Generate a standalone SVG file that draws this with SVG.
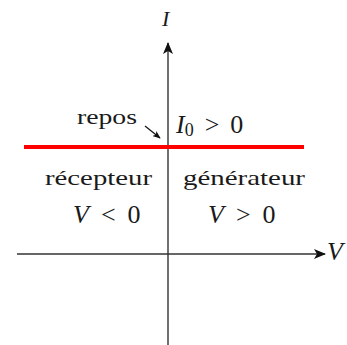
<svg xmlns="http://www.w3.org/2000/svg" width="347" height="345" viewBox="0 0 347 345">
<style>
text{font-family:"Liberation Serif","Times New Roman",serif;font-size:22px;fill:#1a1a1a}
.it{font-style:italic}
.m{font-size:26px}
.axis{stroke:#333;stroke-width:1.4;fill:none}
</style>
<defs>
<marker id="ah" viewBox="0 0 12 10" refX="11" refY="5" markerWidth="12" markerHeight="10" markerUnits="userSpaceOnUse" orient="auto">
<path d="M0,0 L12,5 L0,10 L3,5 Z" fill="#111"/>
</marker>
<marker id="ahs" viewBox="0 0 10 8" refX="9" refY="4" markerWidth="8" markerHeight="7" markerUnits="userSpaceOnUse" orient="auto">
<path d="M0,0 L10,4 L0,8 L2.5,4 Z" fill="#111"/>
</marker>
</defs>
<g id="connectors">
<line class="axis" x1="17" y1="254" x2="325" y2="254" marker-end="url(#ah)"/>
<line class="axis" x1="168" y1="345" x2="168" y2="43" marker-end="url(#ah)"/>
<line x1="24" y1="147" x2="304" y2="147" stroke="#f00" stroke-width="4"/>
<line x1="145" y1="126" x2="160" y2="138" stroke="#111" stroke-width="1.2" marker-end="url(#ahs)"/>
</g>
<g id="label-I"><text x="162" y="26" class="it" font-size="25">I</text></g>
<g id="label-V"><text x="327" y="260" class="it m">V</text></g>
<g id="repos"><text x="77" y="124" textLength="60" lengthAdjust="spacingAndGlyphs">repos</text></g>
<g id="I0"><text x="176" y="133" class="m"><tspan class="it">I</tspan><tspan font-size="18" dy="3">0</tspan><tspan dy="-3" dx="11">&gt;</tspan><tspan dx="11">0</tspan></text></g>
<g id="recepteur"><text x="45" y="185" textLength="107" lengthAdjust="spacingAndGlyphs">récepteur</text></g>
<g id="generateur"><text x="183" y="185" textLength="122" lengthAdjust="spacingAndGlyphs">générateur</text></g>
<g id="Vneg"><text x="73" y="223" class="m"><tspan class="it">V</tspan><tspan dx="12">&lt;</tspan><tspan dx="12">0</tspan></text></g>
<g id="Vpos"><text x="208" y="223" class="m"><tspan class="it">V</tspan><tspan dx="12">&gt;</tspan><tspan dx="12">0</tspan></text></g>
</svg>
